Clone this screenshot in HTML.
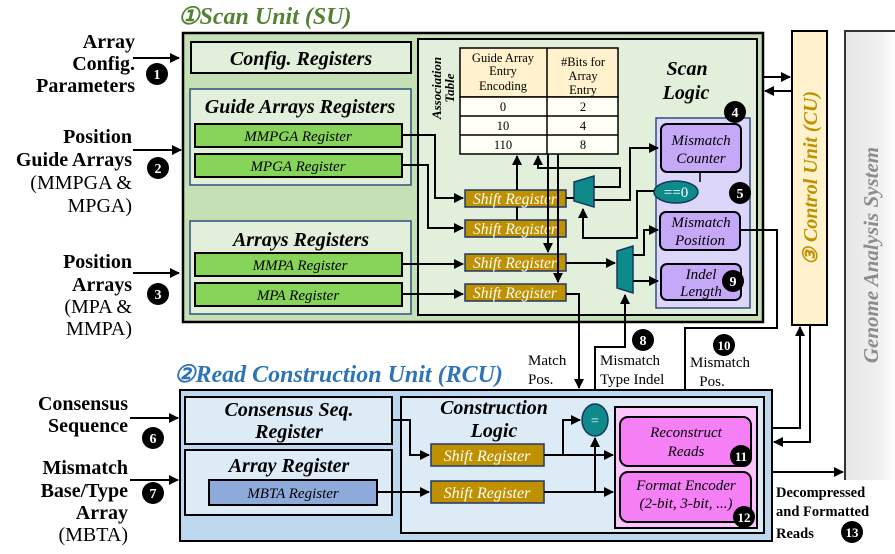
<!DOCTYPE html>
<html><head><meta charset="utf-8"><style>
html,body{margin:0;padding:0;background:#fff;}
svg{display:block;}
text{font-family:"Liberation Serif",serif;}
.b{font-weight:bold;}
.bi{font-weight:bold;font-style:italic;}
.i{font-style:italic;}
</style></head><body>
<svg width="895" height="554" viewBox="0 0 895 554" xmlns="http://www.w3.org/2000/svg">
<defs>
<marker id="A" viewBox="0 0 10 10" refX="9" refY="5" markerWidth="5" markerHeight="5.5" orient="auto"><path d="M0,0 L10,5 L0,10 z" fill="#000"/></marker>
<linearGradient id="g" x1="0" x2="1" y1="0" y2="0"><stop offset="0" stop-color="#e6e6e6"/><stop offset="0.7" stop-color="#f0f0f0"/><stop offset="1" stop-color="#ffffff"/></linearGradient>
</defs>

<rect x="845" y="31" width="50" height="449" fill="url(#g)"/>
<path d="M845,480 L845,31 L895,31" fill="none" stroke="#333" stroke-width="2"/>
<text transform="translate(878,255) rotate(-90)" text-anchor="middle" class="bi" font-size="21" fill="#8c8c8c">Genome Analysis System</text>

<rect x="792" y="31" width="35" height="294" fill="#fff2cc" stroke="#000" stroke-width="2"/>
<text transform="translate(817,178) rotate(-90)" text-anchor="middle" class="bi" font-size="20" fill="#bf9000">③ Control Unit (CU)</text>

<text x="178" y="24" class="bi" font-size="24" fill="#548235">①Scan Unit (SU)</text>
<rect x="183" y="33" width="580" height="289" fill="#c5e0b4" stroke="#000" stroke-width="2.5"/>
<rect x="191" y="42" width="220" height="31" fill="#e2efda" stroke="#000" stroke-width="2"/>
<text x="301" y="65" text-anchor="middle" class="bi" font-size="20">Config. Registers</text>
<rect x="190" y="89" width="221" height="96" fill="#e2efda" stroke="#2f4f7f" stroke-width="1.5"/>
<text x="300" y="113" text-anchor="middle" class="bi" font-size="20">Guide Arrays Registers</text>
<rect x="195" y="124" width="207" height="23" fill="#86d45a" stroke="#000" stroke-width="2"/>
<text x="298" y="141" text-anchor="middle" class="i" font-size="15">MMPGA Register</text>
<rect x="195" y="154" width="207" height="23" fill="#86d45a" stroke="#000" stroke-width="2"/>
<text x="298" y="171" text-anchor="middle" class="i" font-size="15">MPGA Register</text>
<rect x="190" y="221" width="221" height="93" fill="#e2efda" stroke="#2f4f7f" stroke-width="1.5"/>
<text x="301" y="246" text-anchor="middle" class="bi" font-size="20">Arrays Registers</text>
<rect x="195" y="253" width="207" height="23" fill="#86d45a" stroke="#000" stroke-width="2"/>
<text x="300" y="270" text-anchor="middle" class="i" font-size="15">MMPA Register</text>
<rect x="195" y="283" width="207" height="23" fill="#86d45a" stroke="#000" stroke-width="2"/>
<text x="298" y="300" text-anchor="middle" class="i" font-size="15">MPA Register</text>

<rect x="418" y="39" width="339" height="276" fill="#e2efda" stroke="#000" stroke-width="2"/>
<text transform="translate(441,88) rotate(-90)" text-anchor="middle" class="bi" font-size="13">Association</text>
<text transform="translate(454,88) rotate(-90)" text-anchor="middle" class="bi" font-size="13">Table</text>
<text x="687" y="75" text-anchor="middle" class="bi" font-size="20">Scan</text>
<text x="686" y="99" text-anchor="middle" class="bi" font-size="20">Logic</text>
<rect x="460" y="48" width="158" height="49" fill="#fff2cc" stroke="#000" stroke-width="1.5"/>
<rect x="460" y="97" width="158" height="57" fill="#fffff5" stroke="#000" stroke-width="1.5"/>
<line x1="547" y1="48" x2="547" y2="154" stroke="#000" stroke-width="1.5"/>
<line x1="460" y1="116" x2="618" y2="116" stroke="#000" stroke-width="1.5"/>
<line x1="460" y1="135" x2="618" y2="135" stroke="#000" stroke-width="1.5"/>
<g font-size="12.5" text-anchor="middle">
<text x="503" y="62">Guide Array</text><text x="503" y="75">Entry</text><text x="503" y="90">Encoding</text>
<text x="583" y="66">#Bits for</text><text x="583" y="80">Array</text><text x="583" y="94">Entry</text>
<text x="503" y="111">0</text><text x="583" y="111">2</text>
<text x="503" y="130">10</text><text x="583" y="130">4</text>
<text x="503" y="149">110</text><text x="583" y="149">8</text>
</g>

<rect x="656" y="118" width="94" height="190" fill="#dcd6fb" stroke="#2f4f7f" stroke-width="1.5"/>
<line x1="700" y1="172" x2="700" y2="182" stroke="#000" stroke-width="1.5"/>
<rect x="661" y="124" width="80" height="48" rx="6" fill="#c5a8f7" stroke="#000" stroke-width="2"/>
<text x="701" y="145" text-anchor="middle" class="i" font-size="15">Mismatch</text>
<text x="701" y="163" text-anchor="middle" class="i" font-size="15">Counter</text>
<ellipse cx="676" cy="192" rx="22" ry="11" fill="#0e8a8a" stroke="#17375e" stroke-width="1.5"/>
<text x="676" y="197" text-anchor="middle" font-size="15" fill="#fff" font-family="Liberation Sans">==0</text>
<rect x="660" y="212" width="80" height="38" rx="6" fill="#c5a8f7" stroke="#000" stroke-width="2"/>
<text x="701" y="227" text-anchor="middle" class="i" font-size="15">Mismatch</text>
<text x="700" y="245" text-anchor="middle" class="i" font-size="15">Position</text>
<rect x="661" y="264" width="80" height="36" rx="6" fill="#c5a8f7" stroke="#000" stroke-width="2"/>
<text x="701" y="279" text-anchor="middle" class="i" font-size="15">Indel</text>
<text x="701" y="296" text-anchor="middle" class="i" font-size="15">Length</text>

<rect x="465" y="190" width="101" height="17" fill="#bf9000" stroke="#1f3864" stroke-width="1.5"/>
<rect x="465" y="220" width="101" height="17" fill="#bf9000" stroke="#1f3864" stroke-width="1.5"/>
<rect x="465" y="254" width="101" height="17" fill="#bf9000" stroke="#1f3864" stroke-width="1.5"/>
<rect x="465" y="284" width="101" height="17" fill="#bf9000" stroke="#1f3864" stroke-width="1.5"/>
<g fill="#fff" class="i" font-size="15.5" text-anchor="middle">
<text x="515" y="204">Shift Register</text><text x="515" y="234">Shift Register</text>
<text x="515" y="268">Shift Register</text><text x="515" y="298">Shift Register</text>
</g>
<polygon points="574,182 594,176 594,207 574,201" fill="#0e8a8a" stroke="#17375e" stroke-width="1.5"/>
<polygon points="617,251 633,246 633,293 617,288" fill="#0e8a8a" stroke="#17375e" stroke-width="1.5"/>

<g fill="none" stroke="#000" stroke-width="2">
<path d="M402,135 H435 V198 H463" marker-end="url(#A)"/>
<path d="M402,165 H428 V228 H463" marker-end="url(#A)"/>
<path d="M402,264 H463" marker-end="url(#A)"/>
<path d="M402,294 H463" marker-end="url(#A)"/>
<path d="M517,190 V156" marker-end="url(#A)"/>
<path d="M517,207 V220"/>
<path d="M594,187 H620 V168 H538 V156" marker-end="url(#A)"/>
<path d="M566,198 H574"/>
<path d="M594,200 H630 V148 H658" marker-end="url(#A)"/>
<path d="M654,191 H637 V238 H583 V209" marker-end="url(#A)"/>
<path d="M548,154 V252" marker-end="url(#A)"/>
<path d="M558,154 V282" marker-end="url(#A)"/>
<path d="M566,263 H615" marker-end="url(#A)"/>
<path d="M633,255 H644 V230 H658" marker-end="url(#A)"/>
<path d="M633,281 H658" marker-end="url(#A)"/>
<path d="M566,294 H579 V388" marker-end="url(#A)"/>
<path d="M740,230 H777 V328 H685 V405" marker-end="url(#A)"/>
<path d="M595,404 V347 H625 V295" marker-end="url(#A)"/>
<path d="M763,77 H790" marker-end="url(#A)"/>
<path d="M792,91 H765" marker-end="url(#A)"/>
<path d="M772,428 H800 V327" marker-end="url(#A)"/>
<path d="M810,325 V442 H774" marker-end="url(#A)"/>
<path d="M772,472 H843" marker-end="url(#A)"/>
<path d="M133,58 H179" marker-end="url(#A)"/>
<path d="M133,150 H181" marker-end="url(#A)"/>
<path d="M133,273 H179" marker-end="url(#A)"/>
<path d="M130,418 H178" marker-end="url(#A)"/>
<path d="M130,480 H178" marker-end="url(#A)"/>
</g>

<text x="174" y="382" class="bi" font-size="24" fill="#2e75b6">②Read Construction Unit (RCU)</text>
<rect x="180" y="390" width="592" height="151" fill="#bdd7ee" stroke="#000" stroke-width="2"/>
<rect x="185" y="397" width="207" height="47" fill="#ddebf7" stroke="#000" stroke-width="2"/>
<text x="289" y="416" text-anchor="middle" class="bi" font-size="20">Consensus Seq.</text>
<text x="289" y="438" text-anchor="middle" class="bi" font-size="20">Register</text>
<rect x="185" y="450" width="207" height="65" fill="#ddebf7" stroke="#000" stroke-width="2"/>
<text x="289" y="472" text-anchor="middle" class="bi" font-size="20">Array Register</text>
<rect x="209" y="480" width="168" height="25" fill="#8eaadb" stroke="#000" stroke-width="2"/>
<text x="293" y="498" text-anchor="middle" class="i" font-size="15">MBTA Register</text>
<rect x="401" y="397" width="363" height="136" fill="#ddebf7" stroke="#000" stroke-width="2"/>
<text x="494" y="414" text-anchor="middle" class="bi" font-size="20">Construction</text>
<text x="494" y="437" text-anchor="middle" class="bi" font-size="20">Logic</text>
<rect x="431" y="444" width="113" height="22" fill="#bf9000" stroke="#1f3864" stroke-width="1.5"/>
<rect x="431" y="481" width="113" height="22" fill="#bf9000" stroke="#1f3864" stroke-width="1.5"/>
<text x="487" y="461" text-anchor="middle" class="i" font-size="16" fill="#fff">Shift Register</text>
<text x="487" y="498" text-anchor="middle" class="i" font-size="16" fill="#fff">Shift Register</text>
<ellipse cx="595" cy="420" rx="13" ry="16" fill="#0e8a8a" stroke="#17375e" stroke-width="1.5"/>
<text x="595" y="425" text-anchor="middle" font-size="14" fill="#fff" font-family="Liberation Sans">=</text>
<rect x="615" y="407" width="142" height="121" fill="#fbc5fb" stroke="#000" stroke-width="2"/>
<rect x="620" y="417" width="131" height="49" rx="8" fill="#f57ff5" stroke="#000" stroke-width="2"/>
<text x="686" y="437" text-anchor="middle" class="i" font-size="15">Reconstruct</text>
<text x="686" y="456" text-anchor="middle" class="i" font-size="15">Reads</text>
<rect x="620" y="472" width="131" height="50" rx="8" fill="#f57ff5" stroke="#000" stroke-width="2"/>
<text x="686" y="490" text-anchor="middle" class="i" font-size="15">Format Encoder</text>
<text x="686" y="508" text-anchor="middle" class="i" font-size="15">(2-bit, 3-bit, ...)</text>
<g fill="none" stroke="#000" stroke-width="2">
<path d="M392,420 H410 V455 H429" marker-end="url(#A)"/>
<path d="M377,492 H429" marker-end="url(#A)"/>
<path d="M544,455 H613" marker-end="url(#A)"/>
<path d="M563,455 V420 H580" marker-end="url(#A)"/>
<path d="M544,492 H613" marker-end="url(#A)"/>
<path d="M595,492 V438" marker-end="url(#A)"/>
</g>

<g class="b" font-size="20" text-anchor="end">
<text x="135" y="48">Array</text><text x="135" y="70">Config.</text><text x="135" y="92">Parameters</text>
<text x="132" y="143">Position</text><text x="132" y="166">Guide Arrays</text>
<text x="132" y="268">Position</text><text x="132" y="291">Arrays</text>
<text x="128" y="410">Consensus</text><text x="128" y="432">Sequence</text>
<text x="128" y="474">Mismatch</text><text x="128" y="497">Base/Type</text><text x="128" y="519">Array</text>
</g>
<g font-size="20" text-anchor="end">
<text x="132" y="189">(MMPGA &amp;</text><text x="132" y="212">MPGA)</text>
<text x="132" y="313">(MPA &amp;</text><text x="132" y="335">MMPA)</text>
<text x="128" y="541">(MBTA)</text>
</g>
<g font-size="15">
<text x="528" y="365">Match</text><text x="528" y="384">Pos.</text>
<text x="600" y="365">Mismatch</text><text x="600" y="384">Type Indel</text>
<text x="690" y="367">Mismatch</text><text x="712" y="386" text-anchor="middle">Pos.</text>
</g>
<g class="b" font-size="14.5">
<text x="776" y="497">Decompressed</text><text x="776" y="516">and Formatted</text><text x="776" y="538">Reads</text>
</g>

<g font-family="Liberation Sans" font-weight="bold" font-size="14" fill="#fff" text-anchor="middle">
<circle cx="157" cy="74" r="11" fill="#000"/><text x="157" y="79">1</text>
<circle cx="158" cy="168" r="11" fill="#000"/><text x="158" y="173">2</text>
<circle cx="158" cy="294" r="11" fill="#000"/><text x="158" y="299">3</text>
<circle cx="735" cy="112" r="11" fill="#000"/><text x="735" y="117">4</text>
<circle cx="740" cy="193" r="11" fill="#000"/><text x="740" y="198">5</text>
<circle cx="153" cy="438" r="11" fill="#000"/><text x="153" y="443">6</text>
<circle cx="153" cy="493" r="11" fill="#000"/><text x="153" y="498">7</text>
<circle cx="643" cy="340" r="11" fill="#000"/><text x="643" y="345">8</text>
<circle cx="733" cy="281" r="11" fill="#000"/><text x="733" y="286">9</text>
<circle cx="724" cy="345" r="11" fill="#000"/><text x="724" y="350" font-size="13">10</text>
<circle cx="741" cy="456" r="11" fill="#000"/><text x="741" y="461" font-size="13">11</text>
<circle cx="744" cy="517" r="11" fill="#000"/><text x="744" y="522" font-size="13">12</text>
<circle cx="852" cy="532" r="11" fill="#000"/><text x="852" y="537" font-size="13">13</text>
</g>
</svg>
</body></html>
